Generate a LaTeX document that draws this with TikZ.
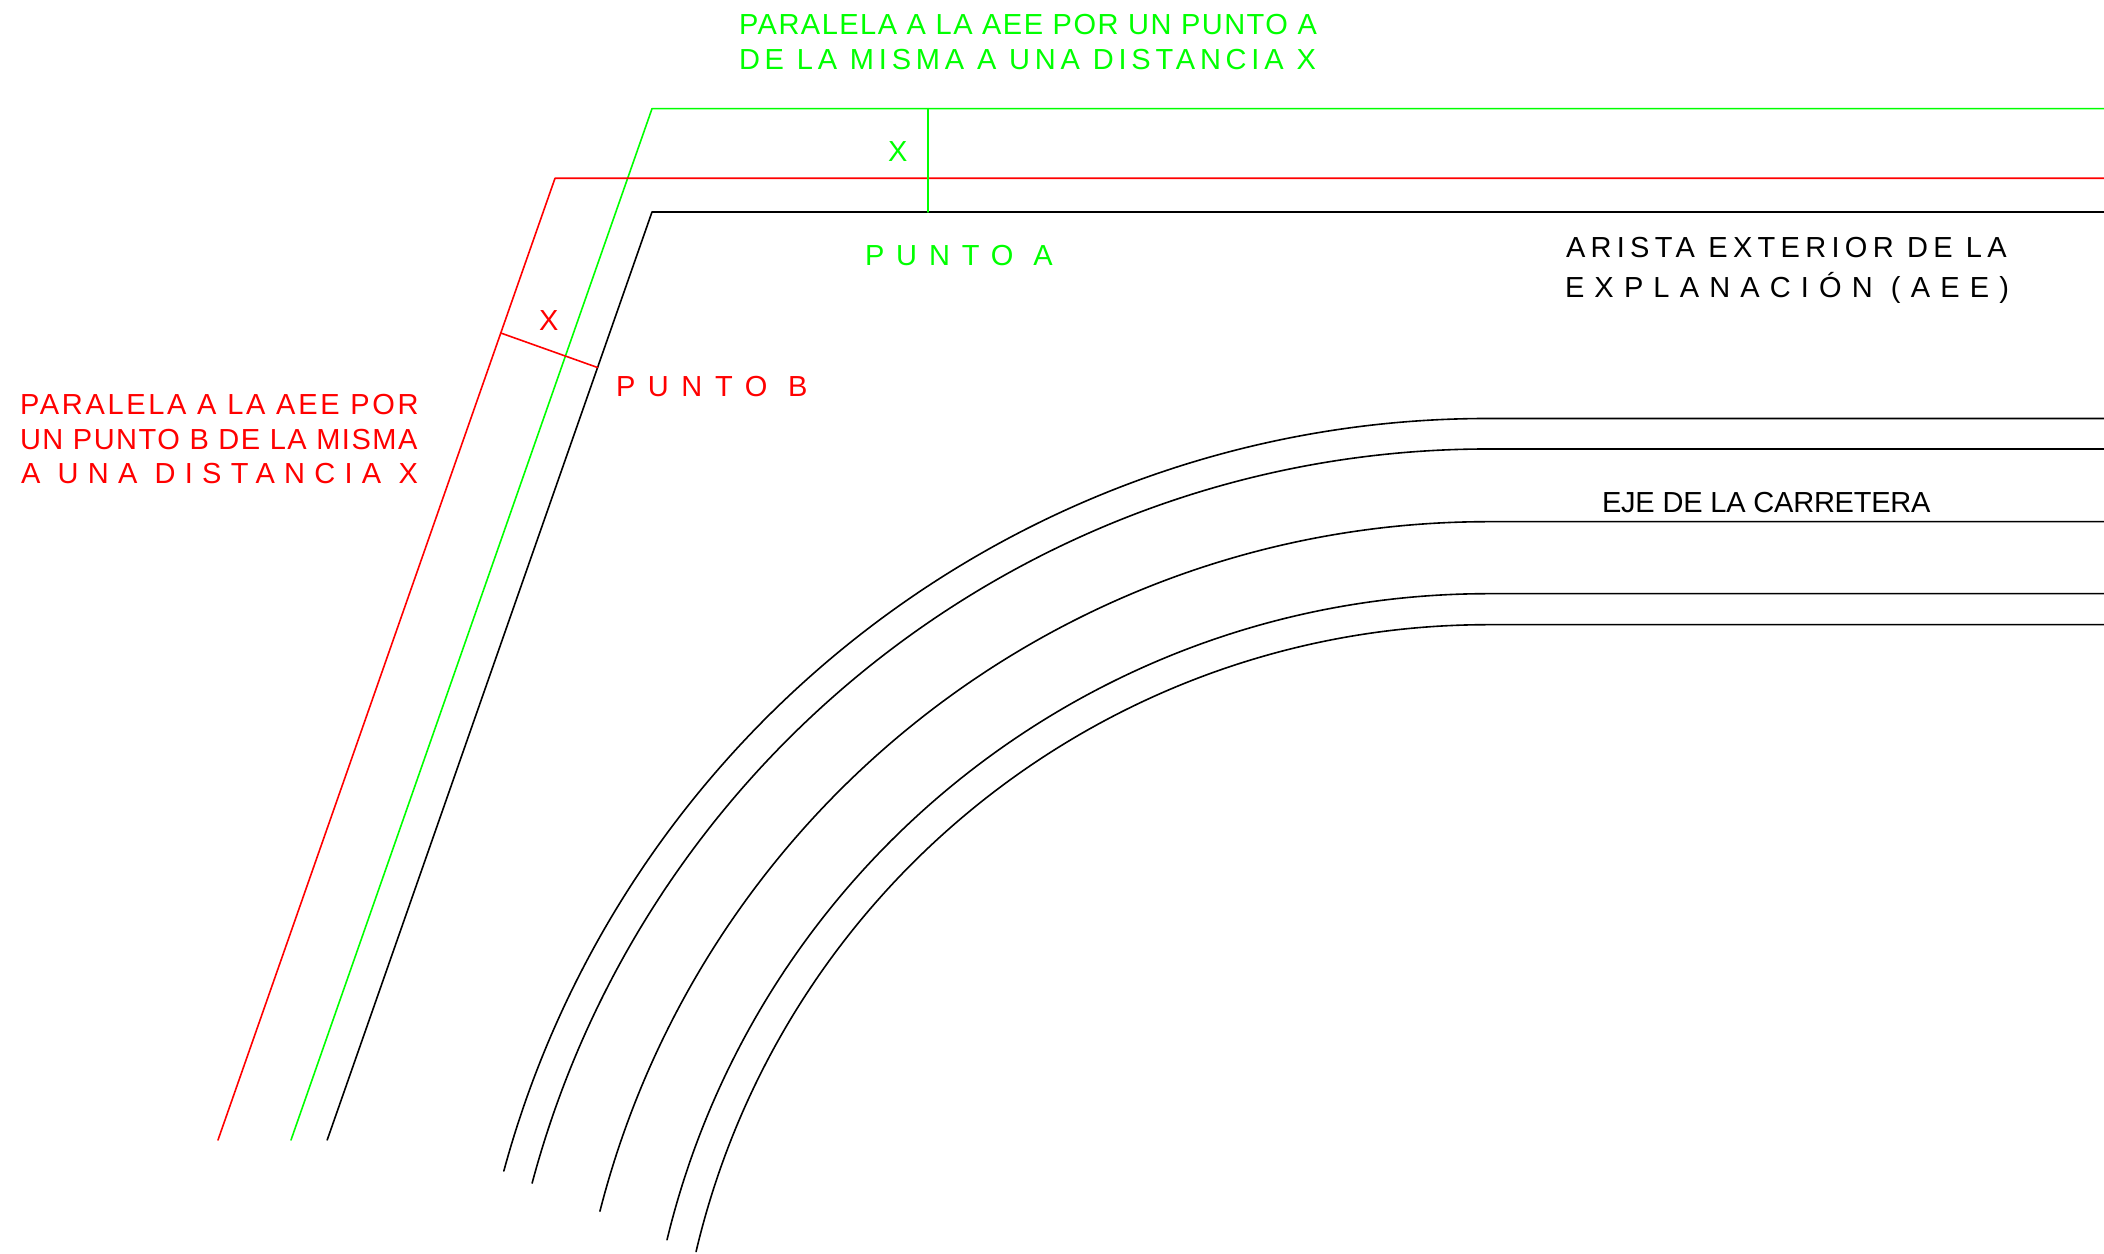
\documentclass[tikz,border=0pt]{standalone}
\usepackage{fontspec}
\setmainfont{Liberation Sans}
\definecolor{planred}{RGB}{255,0,0}
\definecolor{plangreen}{RGB}{0,255,0}
\newcommand{\trk}[2]{{\addfontfeature{LetterSpace=#1}#2}}
\tikzset{
  lbl/.style={anchor=base west, inner sep=0pt, outer sep=0pt, font=\fontsize{14.5}{17}\selectfont},
  rojo/.style={planred},
  verde/.style={plangreen}
}
\begin{document}
\begin{tikzpicture}[x=.5pt, y=.5pt, line width=.8pt, line join=round, line cap=round]
 \def\xp{2104} \def\xc{1488} \def\yc{-185.4} \def\yb{113}
 \useasboundingbox (0,0) rectangle (\xp,1253);
 % arista y paralelas
 \draw (\xp,1041) -- (652,1041) -- (327.2,\yb);
 \draw[verde] (\xp,1144.3) -- (652,1144.3) -- (291,\yb);
 \draw[rojo] (\xp,1074.7) -- (555,1074.7) -- (218,\yb);
 % distancias
 \coordinate (atop) at (928,1144.3);
 \coordinate (abot) at (928,1041);
 \coordinate (bout) at (500.7,920);
 \coordinate (bin) at (597.5,885.5);
 \draw[verde] (atop) -- (abot);
 \draw[rojo] (bout) -- (bin);
 % carretera
 \foreach \r/\a in {1019.9/164.8,989.4/165.05,916.7/165.65,844.7/166.4,813.7/166.73}
 \draw (\xp,\yc+\r) -- (\xc,\yc+\r) arc[start angle=90,end angle=\a,radius=\r];
 % textos
 \node[lbl,verde] (ga) at (739,1218) {\trk{5.15}{PARALELA A LA AEE POR UN PUNTO A}};
 \node[lbl,verde] (gb) at (739,1183) {\trk{16.5}{DE LA MISMA A UNA DISTANCIA X}};
 \node[lbl,verde] (gx) at (888,1091) {X};
 \node[lbl,verde] (pa) at (865,987.3) {\trk{41}{PUNTO A}};
 \node[lbl,rojo] (rx) at (539,922) {X};
 \node[lbl,rojo] (pb) at (616,856.3) {\trk{43.5}{PUNTO B}};
 \node[lbl,rojo] (ra) at (20,838.3) {\trk{9.25}{PARALELA A LA AEE POR}};
 \node[lbl,rojo] (rb) at (20,803.7) {\trk{5.2}{UN PUNTO B DE LA MISMA}};
 \node[lbl,rojo] (rc) at (21,769) {\trk{31.9}{A UNA DISTANCIA X}};
 \node[lbl] (aa) at (1566,995) {\trk{18.25}{ARISTA EXTERIOR DE LA}};
 \node[lbl] (ab) at (1565,955.3) {\trk{35}{EXPLANACIÓN (AEE)}};
 \node[lbl] (eje) at (1602,740.3) {\trk{-.8}{EJE DE LA CARRETERA}};
\end{tikzpicture}
\end{document}
